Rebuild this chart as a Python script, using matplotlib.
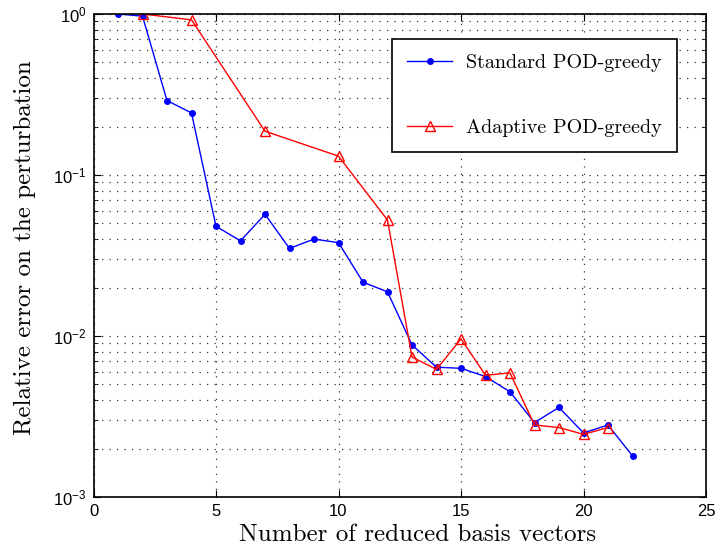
import numpy as np
import matplotlib
matplotlib.use('Agg')
import matplotlib.pyplot as plt
from matplotlib.ticker import LogLocator, NullFormatter

# --- data ---
std_n = [1, 2, 3, 4, 5, 6, 7, 8, 9, 10, 11, 12, 13, 14, 15, 16, 17, 18, 19, 20, 21, 22]
std_err = [1.0, 0.97, 0.29, 0.243, 0.048, 0.039, 0.057, 0.035, 0.040, 0.038, 0.0216,
           0.0188, 0.0088, 0.0064, 0.0063, 0.0056, 0.0045, 0.0029, 0.0036, 0.0025,
           0.0028, 0.0018]

ada_n = [2, 4, 7, 10, 12, 13, 14, 15, 16, 17, 18, 19, 20, 21]
ada_err = [1.0, 0.92, 0.187, 0.131, 0.0525, 0.0074, 0.0062, 0.0096, 0.0057, 0.0059,
           0.0028, 0.0027, 0.00245, 0.0027]

plt.rcParams['mathtext.fontset'] = 'custom'
plt.rcParams['mathtext.rm'] = 'Liberation Sans'
plt.rcParams['font.family'] = ['Liberation Sans', 'DejaVu Sans']
plt.rcParams['xtick.direction'] = 'in'
plt.rcParams['ytick.direction'] = 'in'

fig = plt.figure(figsize=(7.17, 5.54), dpi=100)
ax = fig.add_axes([93.5 / 717, 1 - 497 / 554, (706 - 93.5) / 717, (497 - 14) / 554])

ax.plot(std_n, std_err, color='blue', marker='o', markersize=4, linewidth=1,
        label='Standard POD-greedy')
ax.plot(ada_n, ada_err, color='red', marker='^', markersize=7, markerfacecolor='none',
        markeredgecolor='red', linewidth=1, label='Adaptive POD-greedy')

ax.set_yscale('log')
ax.set_xlim(0, 25)
ax.set_ylim(1e-3, 1)
ax.set_xticks([0, 5, 10, 15, 20, 25])
ax.yaxis.set_minor_locator(LogLocator(base=10, subs=np.arange(2, 10)))
ax.yaxis.set_minor_formatter(NullFormatter())
ax.tick_params(which='both', top=True, right=True, labelsize=12)
ax.tick_params(which='major', length=5, pad=5)
ax.tick_params(which='minor', length=3)

dots = (0, (1, 5))
ax.grid(True, which='major', linestyle=dots, color='black', linewidth=0.9, alpha=0.8)
ax.grid(True, which='minor', axis='y', linestyle=dots, color='black', linewidth=0.9, alpha=0.8)
for s in ax.spines.values():
    s.set_linewidth(1.2)

ax.set_xlabel('Number of reduced basis vectors', fontfamily='cmr10', fontsize=18)
ax.set_ylabel('Relative error on the perturbation', fontfamily='cmr10', fontsize=18)
ax.xaxis.set_label_coords((417.5 - 93.5) / 612.5, -0.055, transform=ax.transAxes)
ax.xaxis.label.set_va('top')
ax.yaxis.set_label_coords(-0.094, (497 - 248) / 483, transform=ax.transAxes)

leg = ax.legend(loc='upper right', bbox_to_anchor=(0.953, 0.948), prop={'family': 'cmr10', 'size': 14.5},
                fancybox=False, edgecolor='black', framealpha=1, labelspacing=2.3,
                borderpad=0.75, borderaxespad=0, handlelength=2.25, handletextpad=0.7, numpoints=1)
leg.get_frame().set_linewidth(1.2)

fig.savefig('out.png', dpi=100)
